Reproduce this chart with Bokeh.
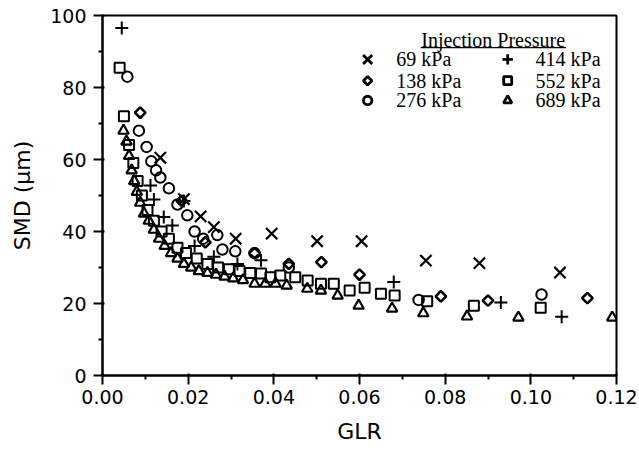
import math
from bokeh.plotting import figure
from bokeh.models import FixedTicker, PrintfTickFormatter, Label, Range1d
from bokeh.embed import file_html
from bokeh.resources import INLINE

# ---- data ----
x69 = [0.0135, 0.019, 0.0229, 0.0260, 0.0311, 0.0395, 0.0501, 0.0605, 0.0755, 0.0880, 0.1068]
y69 = [60.5, 49.0, 44.2, 41.2, 38.0, 39.4, 37.3, 37.3, 31.9, 31.2, 28.6]

x138 = [0.0088, 0.0185, 0.0240, 0.0355, 0.0435, 0.0511, 0.0600, 0.0790, 0.0900, 0.1132]
y138 = [73.0, 48.5, 37.0, 34.0, 31.0, 31.5, 28.0, 22.0, 20.8, 21.5]

x276 = [0.0058, 0.0085, 0.0103, 0.0114, 0.0125, 0.0135, 0.0155, 0.0175, 0.0198,
        0.0215, 0.0235, 0.0268, 0.0280, 0.0310, 0.0355, 0.0435, 0.0738, 0.1025]
y276 = [83.0, 68.0, 63.5, 59.5, 57.0, 55.0, 52.0, 47.5, 44.5,
        40.0, 38.0, 39.0, 35.0, 34.5, 34.0, 30.0, 21.0, 22.5]

x414 = [0.0045, 0.0112, 0.0120, 0.0143, 0.0163, 0.0190, 0.0215, 0.0260, 0.0315,
        0.0370, 0.0680, 0.0930, 0.1072]
y414 = [96.5, 52.8, 48.9, 44.0, 41.7, 48.5, 36.0, 33.0, 31.0,
        32.0, 26.0, 20.3, 16.3]

x552 = [0.0040, 0.0050, 0.0062, 0.0072, 0.0082, 0.0092, 0.0105, 0.0120, 0.0138, 0.0155,
        0.0175, 0.0195, 0.0220, 0.0245, 0.0270, 0.0295, 0.0320, 0.0345, 0.0370, 0.0392,
        0.0415, 0.0450, 0.0479, 0.0510, 0.0540, 0.0577, 0.0612, 0.0650, 0.0682, 0.0758,
        0.0867, 0.1023]
y552 = [85.5, 72.0, 64.0, 59.0, 54.0, 50.0, 46.0, 43.0, 40.0, 38.0,
        35.5, 34.0, 32.5, 31.0, 30.0, 29.5, 29.0, 28.5, 28.3, 27.3,
        27.8, 27.3, 26.4, 25.5, 25.5, 23.6, 24.4, 22.7, 22.2, 20.6,
        19.4, 18.8]

x689 = [0.0049, 0.0056, 0.0062, 0.0068, 0.0074, 0.0080, 0.0088, 0.0097, 0.0108, 0.0120,
        0.0132, 0.0145, 0.0160, 0.0175, 0.0190, 0.0207, 0.0225, 0.0245, 0.0265, 0.0285,
        0.0305, 0.0328, 0.0355, 0.0380, 0.0404, 0.0430, 0.0478, 0.0510, 0.0549, 0.0598,
        0.0676, 0.0749, 0.0851, 0.0971, 0.1190]
y689 = [68.0, 65.0, 61.0, 57.0, 54.0, 51.0, 48.0, 45.0, 43.0, 40.5,
        38.0, 36.0, 34.0, 32.5, 31.0, 30.0, 29.0, 28.5, 28.0, 27.5,
        27.0, 26.5, 25.5, 25.5, 25.5, 25.0, 24.1, 23.6, 22.2, 19.4,
        18.6, 17.3, 16.4, 16.1, 16.1]

x_ticks = [0.00, 0.02, 0.04, 0.06, 0.08, 0.10, 0.12]
y_ticks = [0, 20, 40, 60, 80, 100]
legend_title = "Injection Pressure"
legend_labels = ["69 kPa", "138 kPa", "276 kPa", "414 kPa", "552 kPa", "689 kPa"]

series = [(x69, y69), (x138, y138), (x276, y276), (x414, y414), (x552, y552), (x689, y689)]

# marker styles: (marker, size, angle, line_width)
styles = [("x", 16, 0.0, 2.2), ("square", 7.5, math.pi / 4, 2.6), ("circle", 10.5, 0.0, 2.0),
          ("cross", 13, 0.0, 2.0), ("square", 10, 0.0, 2.0), ("triangle", 10.5, 0.0, 2.2)]

p = figure(width=639, height=465, output_backend="svg", toolbar_location=None,
           x_range=Range1d(0, 0.12), y_range=Range1d(0, 100),
           min_border_left=102, min_border_right=23, min_border_top=15, min_border_bottom=90)

p.background_fill_color = "white"
p.border_fill_color = "white"
p.grid.visible = False
p.outline_line_color = "black"
p.outline_line_width = 2

for (xs, ys), (m, s, a, lw) in zip(series, styles):
    p.scatter(xs, ys, marker=m, size=s, angle=a, line_color="black", line_width=lw,
              fill_alpha=0)

# axes
for ax in (p.xaxis, p.yaxis):
    ax.axis_line_width = 2
    ax.axis_line_color = "black"
    ax.major_tick_line_width = 2
    ax.minor_tick_line_width = 2
    ax.major_tick_out = 9
    ax.major_tick_in = 2
    ax.minor_tick_out = 4
    ax.minor_tick_in = 0
    ax.major_label_text_font = "DejaVu Sans"
    ax.major_label_text_font_size = "19px"
    ax.major_label_text_color = "black"
    ax.axis_label_text_font = "DejaVu Sans"
    ax.axis_label_text_font_size = "22px"
    ax.axis_label_text_font_style = "normal"
    ax.axis_label_text_color = "black"

p.xaxis.ticker = FixedTicker(ticks=x_ticks, minor_ticks=[t + 0.01 for t in x_ticks[:-1]])
p.yaxis.ticker = FixedTicker(ticks=y_ticks, minor_ticks=[t + 10 for t in y_ticks[:-1]])
p.xaxis.formatter = PrintfTickFormatter(format="%.2f")
p.xaxis.axis_label = "GLR"
p.yaxis.axis_label = "SMD (µm)"
p.xaxis.major_label_standoff = 5
p.yaxis.major_label_standoff = 7
p.xaxis.axis_label_standoff = 12
p.yaxis.axis_label_standoff = 12

# ---- legend (layout positions in data units) ----
lg_font = "Liberation Serif"
p.add_layout(Label(x=0.0912, y=93.3, text=legend_title, text_font=lg_font, text_color="black",
                   text_font_size="20px", text_align="center", text_baseline="middle"))
p.segment(x0=[0.0743], y0=[91.1], x1=[0.1082], y1=[91.1], line_color="black", line_width=1.2)
col_marker_x = [0.0619, 0.0946]
col_text_x = [0.0686, 0.1011]
row_y = [87.8, 81.9, 76.4]
for i, (lab, (m, s, a, lw)) in enumerate(zip(legend_labels, styles)):
    c, r = divmod(i, 3)
    p.scatter([col_marker_x[c]], [row_y[r]], marker=m, size=s * 0.8, angle=a,
              line_color="black", line_width=2.8, fill_alpha=0)
    p.add_layout(Label(x=col_text_x[c], y=row_y[r], text=lab, text_font=lg_font,
                       text_color="black", text_font_size="20px",
                       text_align="left", text_baseline="middle"))

open("out.html", "w").write(file_html(p, INLINE))
